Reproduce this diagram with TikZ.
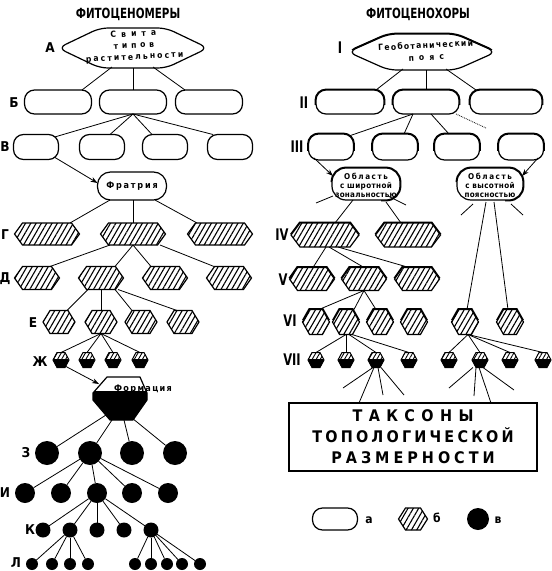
\documentclass[tikz,border=0pt]{standalone}
\usepackage{fontspec}
\setmainfont{DejaVu Sans Condensed}
\newfontfamily\cf{DejaVu Sans Condensed}
\usetikzlibrary{shapes.symbols,calc,patterns.meta,arrows.meta}
\newcommand\ls[2]{{\addfontfeatures{LetterSpace=#1}#2}}
\newcommand\heavy[4]{%
  \begin{scope}
    \clip ($(#3)+(-90,-50)$) rectangle ($(#3)+(90,#4)$);
    \node[#1, line width=2.8pt] (#2) at (#3) {};
  \end{scope}}
\tikzset{
  every node/.append style={inner sep=0pt, outer sep=0pt},
  shp/.style={draw, line width=1.2pt},
  hatch/.style={preaction={fill=white}, pattern={Lines[angle=60,distance=4.6pt,line width=1.1pt]}},
  oval/.style={shp, fill=white, rectangle, rounded corners=10pt, minimum width=#1, minimum height=24pt},
  ob/.style={shp, fill=white, rectangle, rounded corners=14pt, minimum width=#1, minimum height=32pt},
  hexa/.style args={#1/#2/#3}{shp, hatch, signal, signal to=east and west, signal pointer angle=#3, minimum width=#1, minimum height=#2},
  zh/.style={shp, line width=1pt, signal, signal to=east and west, signal pointer angle=124, minimum width=16pt, minimum height=15pt, preaction={fill=white}, pattern={Lines[angle=60,distance=3.5pt,line width=0.9pt]}, path picture={\fill[black] ($(path picture bounding box.west)+(0,-1.5)$) rectangle (path picture bounding box.south east);}},
  dot/.style={circle, fill=black, minimum size=#1},
  lens/.style args={#1/#2/#3}{shp, fill=white, signal, signal to=east and west, signal pointer angle=#3, minimum width=#1, minimum height=#2, rounded corners=8pt},
  lbl/.style={font=\cf\bfseries\fontsize{13.5pt}{14pt}\selectfont},
  rom/.style={font=\cf\bfseries\fontsize{16pt}{17pt}\selectfont},
  ttl/.style={font=\cf\bfseries\fontsize{14pt}{15pt}\selectfont},
  sm/.style args={#1/#2}{font=\cf\bfseries\fontsize{#1}{#2}\selectfont, align=center},
  lk/.style={line width=0.8pt},
  ar/.style={line width=0.8pt, -{Stealth[length=7pt,width=5pt]}},
}
\begin{document}
\begin{tikzpicture}[x=1pt,y=-1pt]
\useasboundingbox (0,0) rectangle (552,571);
% titles
\node[ttl] (t1) at (128,14) {\scalebox{0.82}[1]{ФИТОЦЕНОМЕРЫ}};
\node[ttl] (t2) at (418,14) {\scalebox{0.82}[1]{ФИТОЦЕНОХОРЫ}};
% ---------------- left column ----------------
\node[lbl] (lA) at (50,48) {А};
\node[lbl] (lB) at (14,103) {Б};
\node[lbl] (lV) at (5,147) {В};
\node[lbl] (lG) at (5,235) {Г};
\node[lbl] (lD) at (5,279) {Д};
\node[lbl] (lE) at (33,323) {Е};
\node[lbl] (lZh) at (40,362) {Ж};
\node[lbl] (lZ) at (26,453) {З};
\node[lbl] (lI) at (5,493) {И};
\node[lbl] (lK) at (30,530) {К};
\node[lbl] (lL) at (16,563) {Л};

\node[lens={150pt/40pt/51}] (A) at (133,48) {};
\node[sm={8.5pt/11.5pt}, rotate=3] (At) at (134,46) {\ls{60}{Свита}\\\ls{45}{типов}\\\ls{25}{растительности}};

\node[oval=67pt] (B1) at (58,102) {};
\node[oval=67pt] (B2) at (133,102) {};
\node[oval=67pt] (B3) at (209,102) {};

\node[oval=45pt, minimum height=25pt] (V1) at (36,147) {};
\node[oval=45pt, minimum height=25pt] (V2) at (102,147) {};
\node[oval=45pt, minimum height=25pt] (V3) at (165,147) {};
\node[oval=45pt, minimum height=25pt] (V4) at (230,147) {};

\node[shp, fill=white, rectangle, rounded corners=13pt, minimum width=69pt, minimum height=28pt, sm={9pt/10pt}] (F) at (132,186) {\ls{20}{Фратрия}};

\node[hexa={65pt/22pt/108}] (G1) at (47,234) {};
\node[hexa={65pt/22pt/108}] (G2) at (133,234) {};
\node[hexa={65pt/22pt/108}] (G3) at (220,234) {};

\node[hexa={45pt/23pt/110}] (D1) at (37,278) {};
\node[hexa={45pt/23pt/110}] (D2) at (101,278) {};
\node[hexa={45pt/23pt/110}] (D3) at (165,278) {};
\node[hexa={45pt/23pt/110}] (D4) at (229,278) {};

\node[hexa={32pt/23pt/117}] (E1) at (59,322) {};
\node[hexa={32pt/23pt/117}] (E2) at (101,322) {};
\node[hexa={32pt/23pt/117}] (E3) at (141,322) {};
\node[hexa={32pt/23pt/117}] (E4) at (183,322) {};

\node[zh] (Zh1) at (61,360) {};
\node[zh] (Zh2) at (87,360) {};
\node[zh] (Zh3) at (113,360) {};
\node[zh] (Zh4) at (140,360) {};

% formation
\node[minimum width=54pt, minimum height=43pt] (Form) at (120,398) {};
\begin{scope}
  \clip ($(Form.center)+(-13,-21)$) -- ($(Form.center)+(20,-21)$) -- ($(Form.center)+(27,-5)$) -- ($(Form.center)+(27,2)$) -- ($(Form.center)+(13,22)$) -- ($(Form.center)+(-10,22)$) -- ($(Form.center)+(-27,2)$) -- ($(Form.center)+(-27,-5)$) -- cycle;
  \fill[black] ($(Form.center)+(-30,-7)$) rectangle ($(Form.center)+(30,25)$);
\end{scope}
\draw[shp, line join=round] ($(Form.center)+(-13,-21)$) -- ($(Form.center)+(20,-21)$) -- ($(Form.center)+(27,-5)$) -- ($(Form.center)+(27,2)$) -- ($(Form.center)+(13,22)$) -- ($(Form.center)+(-10,22)$) -- ($(Form.center)+(-27,2)$) -- ($(Form.center)+(-27,-5)$) -- cycle;
\node[sm={9pt/10pt}] (FormT) at (143,389) {\ls{15}{Формация}};

\node[dot=24pt] (Z1) at (47,453) {};
\node[dot=24pt] (Z2) at (90,453) {};
\node[dot=24pt] (Z3) at (132,453) {};
\node[dot=24pt] (Z4) at (175,453) {};

\node[dot=20pt] (I1) at (25,493) {};
\node[dot=20pt] (I2) at (61,493) {};
\node[dot=20pt] (I3) at (97,493) {};
\node[dot=20pt] (I4) at (132,493) {};
\node[dot=20pt] (I5) at (168,493) {};

\node[dot=15pt] (K1) at (43,530) {};
\node[dot=15pt] (K2) at (70,530) {};
\node[dot=15pt] (K3) at (97,530) {};
\node[dot=15pt] (K4) at (124,530) {};
\node[dot=15pt] (K5) at (151,530) {};

\node[dot=12pt] (L1) at (32,564) {};
\node[dot=12pt] (L2) at (52,564) {};
\node[dot=12pt] (L3) at (70,564) {};
\node[dot=12pt] (L4) at (88,564) {};
\node[dot=12pt] (L5) at (135,564) {};
\node[dot=12pt] (L6) at (151,564) {};
\node[dot=12pt] (L7) at (167,564) {};
\node[dot=12pt] (L8) at (182,564) {};
\node[dot=12pt] (L9) at (200,564) {};

% left links
\draw[lk] ($(A.south)+(-21,-1)$) -- ($(B1.north)+(24,0)$);
\draw[lk] (A.south) -- (B2.north);
\draw[lk] ($(A.south)+(20,-1)$) -- ($(B3.north)+(-24,0)$);
\draw[lk] (B2.south) -- ($(V1.north)+(19,2.4)$);
\draw[lk] (B2.south) -- ($(V2.north)+(8,0)$);
\draw[lk] (B2.south) -- ($(V3.north)+(-13,0)$);
\draw[lk] (B2.south) -- ($(V4.north)+(-17,0)$);
\draw[ar] ($(V1.south)+(19,-2)$) -- ($(F.west)+(0,-3)$);
\draw[lk] ($(F.south)+(-22,0)$) -- ($(G1.north)+(23,0)$);
\draw[lk] ($(F.south)+(1,0)$) -- (G2.north);
\draw[lk] ($(F.south)+(23,0)$) -- ($(G3.north)+(-23,0)$);
\draw[lk] ($(G2.south)+(-23,0)$) -- ($(D1.north)+(13,0)$);
\draw[lk] (G2.south) -- ($(D2.north)+(14,0)$);
\draw[lk] (G2.south) -- ($(D3.north)+(-14,0)$);
\draw[lk] ($(G2.south)+(27,0)$) -- ($(D4.north)+(-15,0)$);
\draw[lk] ($(D2.south)+(-13,0)$) -- ($(E1.north)+(8,0)$);
\draw[lk] (D2.south) -- (E2.north);
\draw[lk] ($(D2.south)+(14,0)$) -- ($(E3.north)+(-9,0)$);
\draw[lk] ($(D2.south)+(17,0)$) -- ($(E4.north)+(-6,0)$);
\foreach \n in {Zh1,Zh2,Zh3,Zh4} \draw[lk] (E2.south) -- (\n.north);
\draw[ar] ($(Zh1.south)+(5,-1)$) -- ($(Form.center)+(-21,-14)$);
\draw[lk] ($(Form.center)+(-14,17)$) -- (Z1);
\draw[lk] ($(Form.center)+(-8,22)$) -- (Z2);
\draw[lk] ($(Form.center)+(4,22)$) -- (Z3);
\draw[lk] ($(Form.center)+(12,20)$) -- (Z4);
\foreach \n in {I1,I2,I3,I4,I5} \draw[lk] (Z2) -- (\n);
\foreach \n in {K1,K2,K3,K4,K5} \draw[lk] (I3) -- (\n);
\foreach \n in {L1,L2,L3,L4} \draw[lk] (K2) -- (\n);
\foreach \n in {L5,L6,L7,L8,L9} \draw[lk] (K5) -- (\n);

% ---------------- right column ----------------
\node[rom] (rI) at (340,48) {\scalebox{0.8}[1]{I}};
\node[rom] (rII) at (304,103) {\scalebox{0.8}[1]{II}};
\node[rom] (rIII) at (297,147) {\scalebox{0.8}[1]{III}};
\node[rom] (rIV) at (282,235) {\scalebox{0.8}[1]{IV}};
\node[rom] (rV) at (283,280) {\scalebox{0.8}[1]{V}};
\node[rom] (rVI) at (290,321) {\scalebox{0.8}[1]{VI}};
\node[rom] (rVII) at (292,360) {\scalebox{0.8}[1]{VII}};

\heavy{lens={148pt/36pt/48}}{Rh}{422,52}{-3}
\node[lens={148pt/36pt/48}] (R) at (422,52) {};
\node[sm={8.5pt/12pt}, rotate=3] (Rt) at (426,51) {\ls{15}{Геоботанический}\\\ls{60}{пояс}};

\heavy{oval=68pt}{II1h}{350,102}{2}
\heavy{oval=66pt}{II2h}{426,102}{2}
\heavy{oval=72pt}{II3h}{506,102}{2}
\node[oval=68pt] (II1) at (350,102) {};
\node[oval=66pt] (II2) at (426,102) {};
\node[oval=72pt] (II3) at (506,102) {};

\heavy{oval=45pt, minimum height=26pt}{III1h}{331,147}{3}
\heavy{oval=45pt, minimum height=26pt}{III2h}{395,147}{3}
\heavy{oval=45pt, minimum height=26pt}{III3h}{457,147}{3}
\heavy{oval=45pt, minimum height=26pt}{III4h}{521,147}{3}
\node[oval=45pt, minimum height=26pt] (III1) at (331,147) {};
\node[oval=45pt, minimum height=26pt] (III2) at (395,147) {};
\node[oval=45pt, minimum height=26pt] (III3) at (457,147) {};
\node[oval=45pt, minimum height=26pt] (III4) at (521,147) {};

\coordinate (Ob1c) at (366,184);
\coordinate (Ob2c) at (490,184);
\begin{scope}
  \clip ($(Ob1c)+(-50,-30)$) -- ($(Ob1c)+(50,-30)$) -- ($(Ob1c)+(50,25)$) -- ($(Ob1c)+(15,25)$) -- ($(Ob1c)+(15,-2)$) -- ($(Ob1c)+(-50,-2)$) -- cycle;
  \node[ob=68pt, line width=2.8pt] (Ob1h) at (Ob1c) {};
\end{scope}
\begin{scope}
  \clip ($(Ob2c)+(-50,-30)$) -- ($(Ob2c)+(50,-30)$) -- ($(Ob2c)+(50,25)$) -- ($(Ob2c)+(15,25)$) -- ($(Ob2c)+(15,-2)$) -- ($(Ob2c)+(-50,-2)$) -- cycle;
  \node[ob=66pt, line width=2.8pt] (Ob2h) at (Ob2c) {};
\end{scope}
\node[ob=68pt] (Ob1) at (Ob1c) {};
\node[ob=66pt] (Ob2) at (Ob2c) {};
\node[sm={8pt/9pt}] (Ob1t) at (366,185) {\ls{20}{Область}\\\ls{5}{с широтной}\\\ls{3}{зональностью}};
\node[sm={8pt/9pt}] (Ob2t) at (490,185) {\ls{20}{Область}\\\ls{5}{с высотной}\\\ls{3}{поясностью}};

\heavy{hexa={68pt/24pt/106}}{IV1h}{325,235}{-2}
\heavy{hexa={65pt/24pt/106}}{IV2h}{408,235}{-2}
\node[hexa={68pt/24pt/106}] (IV1) at (325,235) {};
\node[hexa={65pt/24pt/106}] (IV2) at (408,235) {};

\heavy{hexa={45pt/23pt/110}}{V1h}{312,279}{-2}
\heavy{hexa={45pt/23pt/110}}{V2h}{364,279}{-2}
\heavy{hexa={45pt/23pt/110}}{V3h}{417,279}{-2}
\node[hexa={45pt/23pt/110}] (V1r) at (312,279) {};
\node[hexa={45pt/23pt/110}] (V2r) at (364,279) {};
\node[hexa={45pt/23pt/110}] (V3r) at (417,279) {};

\foreach \n/\x in {VI1/316,VI2/346,VI3/380,VI4/414,VIr1/465,VIr2/510}{
  \heavy{hexa={27pt/25pt/121}}{\n h}{\x,322}{-3}
  \node[hexa={27pt/25pt/121}] (\n) at (\x,322) {};
}
\foreach \n/\x in {VII1/316,VII2/346,VII3/376,VII4/409,VII5/449,VII6/480,VII7/510,VII8/543}{
  \node[zh] (\n) at (\x,360) {};
}

\node[draw, line width=1.2pt, minimum width=248pt, minimum height=68pt, align=center, font=\cf\bfseries\fontsize{16pt}{21pt}\selectfont] (box) at (413,437) {\ls{40}{ТАКСОНЫ}\\\ls{20}{ТОПОЛОГИЧЕСКОЙ}\\\ls{25}{РАЗМЕРНОСТИ}};

% right links
\draw[lk] ($(R.south)+(-19,-1)$) -- ($(II1.north)+(26,0)$);
\draw[lk] ($(R.south)+(4,0)$) -- (II2.north);
\draw[lk] ($(R.south)+(24,-1)$) -- ($(II3.north)+(-30,0)$);
\draw[lk] ($(II2.south)+(-13,0)$) -- ($(III1.north)+(18,2)$);
\draw[lk] ($(II2.south)+(-13,0)$) -- ($(III2.north)+(9,0)$);
\draw[lk] ($(II2.south)+(5,0)$) -- ($(III3.north)+(-8,0)$);
\coordinate (dq) at (486,128);
\draw[lk, densely dotted] ($(II2.south)+(30,0)$) -- (dq);
\draw[ar] ($(III1.south)+(-17,-2)$) -- ($(Ob1.north west)+(1,8)$);
\draw[ar] ($(III4.south)+(17,-2)$) -- ($(Ob2.north east)+(-1,8)$);
\coordinate (r1) at (316,203);
\coordinate (r2) at (406,205);
\coordinate (r3) at (461,215);
\coordinate (r4) at (523,215);
\draw[lk] ($(Ob1.south)+(-33,-4)$) -- (r1);
\draw[lk] ($(Ob1.south)+(-13,0)$) -- ($(IV1.north)+(10,0)$);
\draw[lk] ($(Ob1.south)+(20,2)$) -- ($(IV2.north)+(-7,0)$);
\draw[lk] ($(Ob1.south)+(22,-4)$) -- (r2);
\draw[lk] ($(Ob2.south)+(-17,4)$) -- (r3);
\draw[lk] ($(Ob2.south)+(21,4)$) -- (r4);
\draw[lk] ($(Ob2.south)+(-4,2)$) -- ($(VIr1.north)+(2,0)$);
\draw[lk] ($(Ob2.south)+(4,2)$) -- ($(VIr2.north)+(-2,0)$);
\draw[lk] ($(IV1.south)+(1,0)$) -- ($(V1r.north)+(1,0)$);
\draw[lk] ($(IV1.south)+(4,0)$) -- (V2r.north);
\draw[lk] ($(IV1.south)+(13,0)$) -- ($(V3r.north)+(-8,0)$);
\draw[lk] (V2r.south) -- ($(VI1.north)+(3,0)$);
\draw[lk] (V2r.south) -- ($(VI2.north)+(8,0)$);
\draw[lk] (V2r.south) -- ($(VI3.north)+(-4,0)$);
\draw[lk] (VI2.south) -- (VII1.north);
\draw[lk] (VI2.south) -- (VII2.north);
\draw[lk] ($(VI2.south)+(3,0)$) -- (VII3.north);
\draw[lk] ($(VI2.south)+(6,0)$) -- (VII4.north);
\foreach \n in {VII5,VII6,VII7,VII8} \draw[lk] ($(VIr1.south)+(3,0)$) -- (\n.north);
\coordinate (q1) at (343,388);
\coordinate (q2) at (383,395);
\coordinate (q3) at (404,395);
\coordinate (q4) at (449,388);
\coordinate (q5) at (474,396);
\coordinate (q6) at (514,390);
\draw[lk] ($(VII3.south)+(-3,0)$) -- (q1);
\draw[lk] ($(VII3.south)+(-2,0)$) -- ($(box.north west)+(70,0)$);
\draw[lk] ($(VII3.south)+(2,0)$) -- (q2);
\draw[lk] ($(VII3.south)+(5,0)$) -- (q3);
\draw[lk] ($(VII6.south)+(-7,0)$) -- (q4);
\draw[lk] ($(VII6.south)+(-4,0)$) -- (q5);
\draw[lk] ($(VII6.south)+(-1,0)$) -- ($(box.north west)+(202,0)$);
\draw[lk] ($(VII6.south)+(3,0)$) -- (q6);

% legend
\node[oval=45pt, minimum height=22pt] (lg1) at (335,519) {};
\node[lbl, font=\cf\bfseries\fontsize{12pt}{12pt}\selectfont] (lga) at (369,520) {а};
\node[hexa={29pt/22pt/115}] (lg2) at (413,519) {};
\node[lbl, font=\cf\bfseries\fontsize{12pt}{12pt}\selectfont] (lgb) at (437,518) {б};
\node[dot=22pt] (lg3) at (478,519) {};
\node[lbl, font=\cf\bfseries\fontsize{12pt}{12pt}\selectfont] (lgc) at (498,520) {в};
\end{tikzpicture}
\end{document}
